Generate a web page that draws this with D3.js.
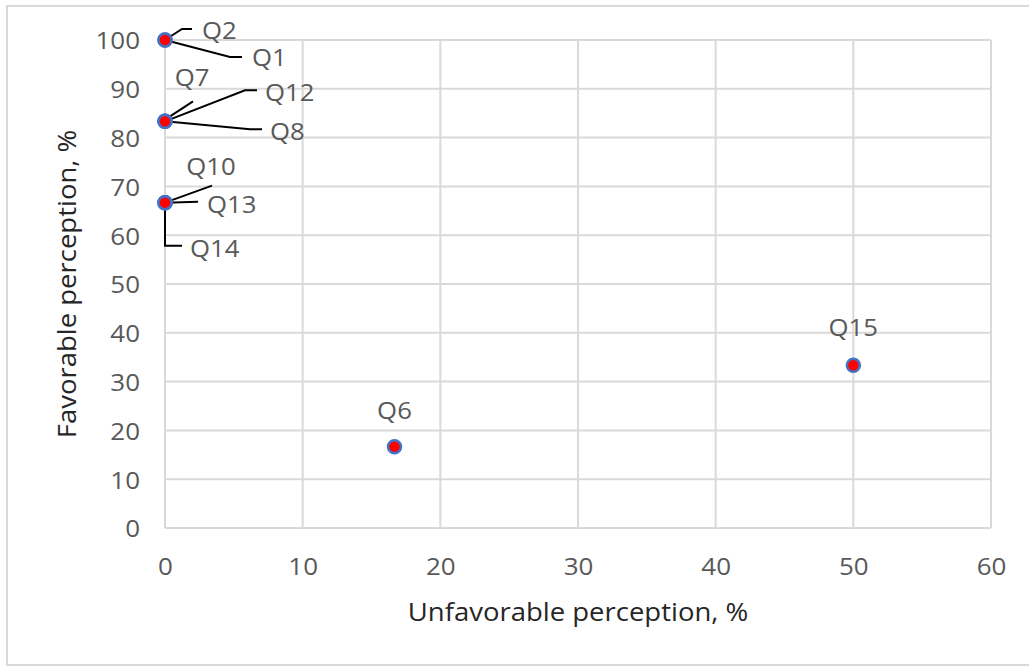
<!DOCTYPE html>
<html>
<head>
<meta charset="utf-8">
<script src="https://cdn.jsdelivr.net/npm/d3@7"></script>
<style>
  html, body { margin: 0; padding: 0; background: #fff; }
  svg { display: block; }
</style>
</head>
<body>
<svg id="chart" width="1029" height="667"></svg>
<script>
// ---- data ----
const questions   = ["Q1", "Q2", "Q6", "Q7", "Q8", "Q10", "Q12", "Q13", "Q14", "Q15"];
const unfavorable = [0, 0, 16.67, 0, 0, 0, 0, 0, 0, 50];
const favorable   = [100, 100, 16.67, 83.33, 83.33, 66.67, 83.33, 66.67, 66.67, 33.33];
const xTicks = [0, 10, 20, 30, 40, 50, 60];
const yTicks = [0, 10, 20, 30, 40, 50, 60, 70, 80, 90, 100];
const xTitle = "Unfavorable perception, %";
const yTitle = "Favorable perception, %";

// label layout (pixel offsets from the marker: leader polyline and text anchor)
const labelLayout = {
  Q1:  { line: [[0,0],[65,17],[77,17]], text: [87,17], anchor: "start" },
  Q2:  { line: [[0,0],[17,-11],[27,-11]], text: [37,-10], anchor: "start" },
  Q6:  { line: null, text: [0,-37], anchor: "middle" },
  Q7:  { line: [[2,-3],[28,-20]], text: [27,-44], anchor: "middle" },
  Q8:  { line: [[0,0],[85,8],[97,8]], text: [105,10], anchor: "start" },
  Q10: { line: [[0,0],[47,-17]], text: [46,-37], anchor: "middle" },
  Q12: { line: [[0,0],[80,-31],[92,-31]], text: [100,-29], anchor: "start" },
  Q13: { line: [[0,0],[33,-1]], text: [42,1], anchor: "start" },
  Q14: { line: [[0,0],[0,43],[17,43]], text: [25,45], anchor: "start" },
  Q15: { line: null, text: [0,-38], anchor: "middle" }
};

const data = questions.map((q, i) => ({ q, x: unfavorable[i], y: favorable[i] }));

// ---- layout ----
const svg = d3.select("#chart");
const plot = { left: 165, right: 991, top: 40, bottom: 528 };
const FONT = "'Open Sans', 'Liberation Sans', sans-serif";
const TICK_STRETCH = 1.13;
const TITLE_STRETCH = 1.1;
const LABEL_STRETCH = 1.12;

const x = d3.scaleLinear().domain([0, 60]).range([plot.left, plot.right]);
const y = d3.scaleLinear().domain([0, 100]).range([plot.bottom, plot.top]);

// outer frame
svg.append("rect")
  .attr("x", 7).attr("y", 6).attr("width", 1040).attr("height", 659)
  .attr("fill", "none").attr("stroke", "#d9d9d9").attr("stroke-width", 2);

// gridlines
const grid = svg.append("g").attr("stroke", "#d9d9d9").attr("stroke-width", 2);
grid.selectAll("line.h").data(yTicks).join("line")
  .attr("x1", plot.left).attr("x2", plot.right)
  .attr("y1", d => y(d)).attr("y2", d => y(d));
grid.selectAll("line.v").data(xTicks).join("line")
  .attr("y1", plot.top).attr("y2", plot.bottom)
  .attr("x1", d => x(d)).attr("x2", d => x(d));

// axes (labels only)
const yAxis = d3.axisLeft(y).tickValues(yTicks).tickSize(0);
const xAxis = d3.axisBottom(x).tickValues(xTicks).tickSize(0);

const gy = svg.append("g").attr("transform", `translate(${plot.left},0)`).call(yAxis);
const gx = svg.append("g").attr("transform", `translate(0,${plot.bottom})`).call(xAxis);
[gx, gy].forEach(g => {
  g.select(".domain").remove();
  g.selectAll("text")
    .attr("font-family", FONT).attr("font-size", 23).attr("fill", "#595959")
    .attr("dominant-baseline", "central").attr("dy", null)
    .attr("transform", `scale(${TICK_STRETCH},1)`);
});
gy.selectAll("text").attr("x", -25 / TICK_STRETCH).attr("y", 0);
gx.selectAll("text").attr("x", 0).attr("y", 38);

// axis titles
svg.append("g").attr("transform", "translate(578,621)")
  .append("text")
  .attr("transform", `scale(${TITLE_STRETCH},1)`)
  .attr("text-anchor", "middle")
  .attr("font-family", FONT).attr("font-size", 25).attr("fill", "#262626")
  .text(xTitle);
svg.append("g").attr("transform", "translate(76,284) rotate(-90)")
  .append("text")
  .attr("transform", `scale(${TITLE_STRETCH},1)`)
  .attr("text-anchor", "middle")
  .attr("font-family", FONT).attr("font-size", 25).attr("fill", "#262626")
  .text(yTitle);

// leader lines
const line = d3.line();
svg.append("g").selectAll("path").data(data.filter(d => labelLayout[d.q].line)).join("path")
  .attr("d", d => line(labelLayout[d.q].line.map(p => [x(d.x) + p[0], y(d.y) + p[1]])))
  .attr("fill", "none").attr("stroke", "#000").attr("stroke-width", 2);

// markers
svg.append("g").selectAll("circle").data(data).join("circle")
  .attr("cx", d => x(d.x)).attr("cy", d => y(d.y)).attr("r", 6.5)
  .attr("fill", "#ff0000").attr("stroke", "#4472c4").attr("stroke-width", 2.5);

// labels
svg.append("g").selectAll("g").data(data).join("g")
  .attr("transform", d => `translate(${x(d.x) + labelLayout[d.q].text[0]},${y(d.y) + labelLayout[d.q].text[1]})`)
  .append("text")
  .attr("transform", `scale(${LABEL_STRETCH},1)`)
  .attr("text-anchor", d => labelLayout[d.q].anchor)
  .attr("dominant-baseline", "central")
  .attr("font-family", FONT).attr("font-size", 23).attr("fill", "#595959")
  .text(d => d.q);
</script>
</body>
</html>
